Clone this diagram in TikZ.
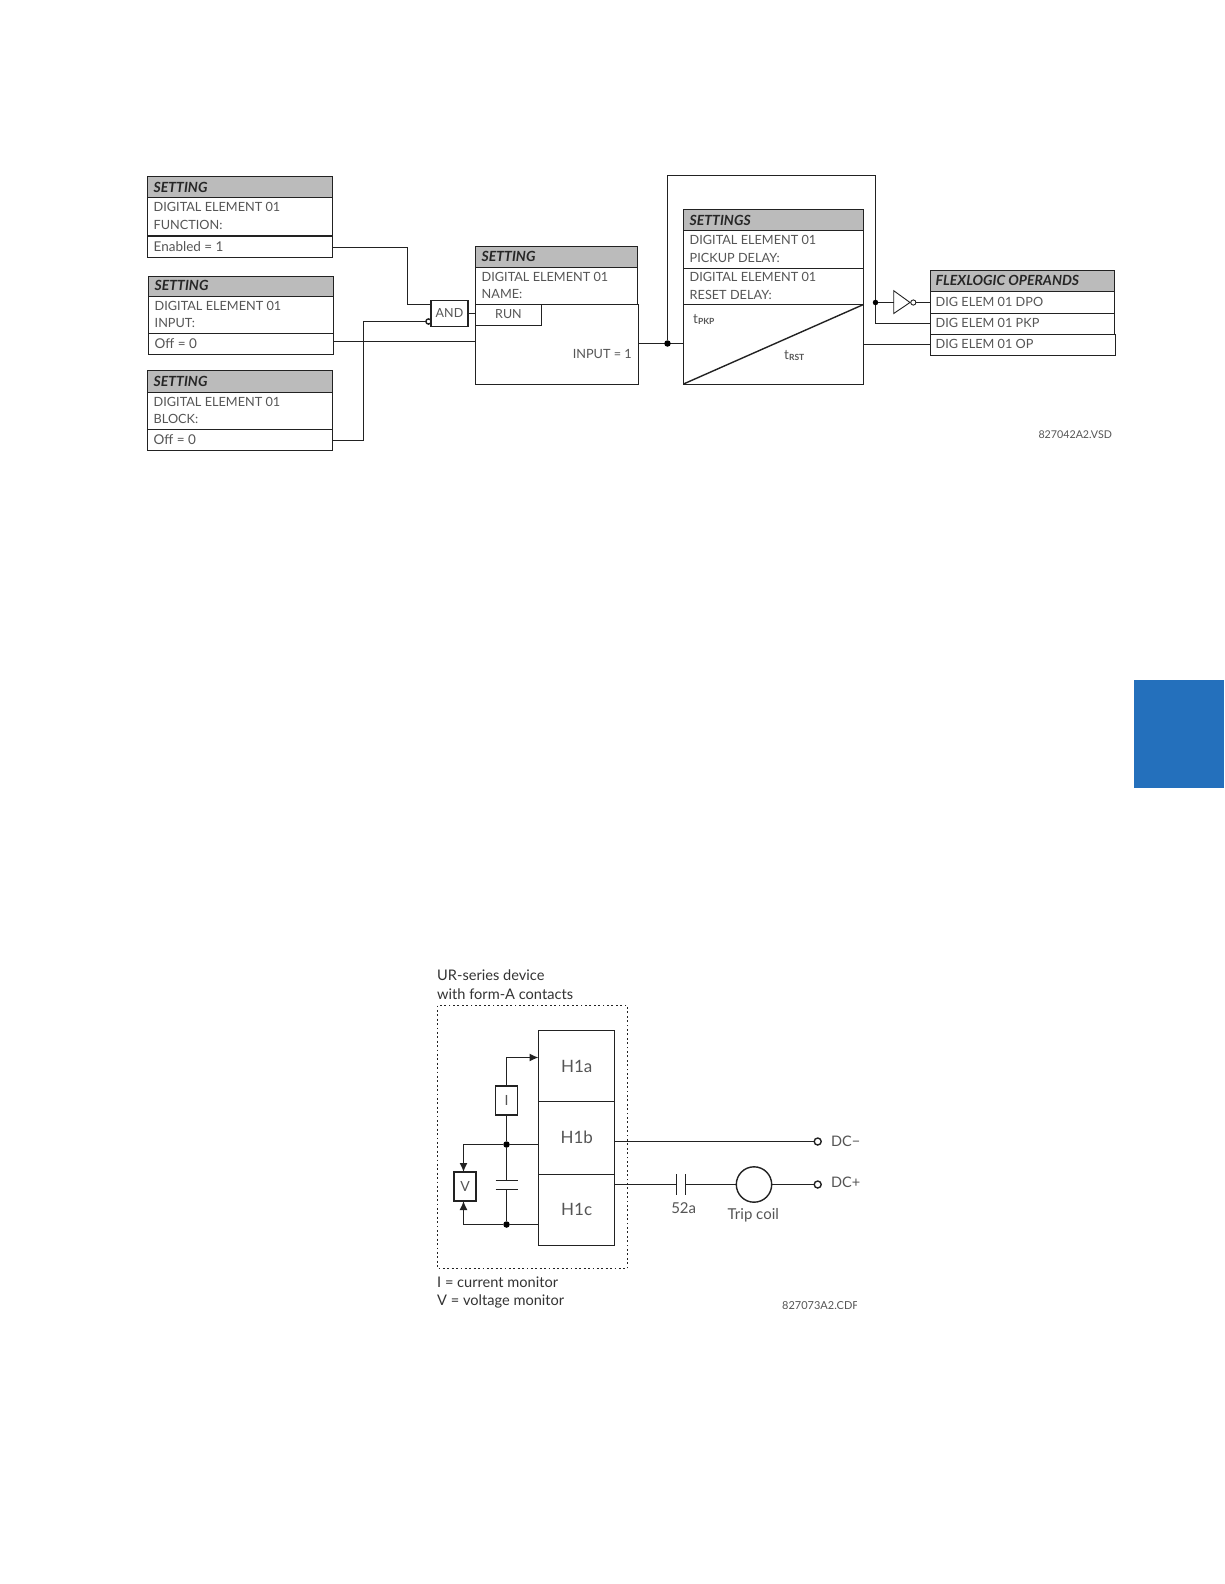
\documentclass[tikz,border=0pt]{standalone}
\usepackage{fontspec}
\setmainfont{Lato}
\usetikzlibrary{arrows.meta}
\definecolor{hdr}{HTML}{BBBBBB}
\definecolor{txt}{HTML}{555555}
\definecolor{lin}{HTML}{222222}
\definecolor{tabblue}{HTML}{2470BC}
\tikzset{
  ln/.style={draw=lin,line width=1.4pt},
  lbl/.style={anchor=west,inner sep=0pt,text=txt,font=\fontsize{12.7}{14}\selectfont},
  mlbl/.style={anchor=west,inner sep=0pt,text=txt,font=\fontsize{13.5}{14}\selectfont},
  hlbl/.style={anchor=west,inner sep=0pt,text=black!85,font=\fontsize{14}{14}\selectfont\bfseries\itshape},
  clbl/.style={inner sep=0pt,text=txt,font=\fontsize{12.5}{14}\selectfont},
  bigl/.style={inner sep=0pt,text=txt,font=\fontsize{17}{19}\selectfont},
  blk/.style={anchor=west,inner sep=0pt,text=black!80,font=\fontsize{14.6}{15}\selectfont},
  dotj/.style={circle,fill=black,inner sep=0pt,minimum size=6.5pt},
  arr/.style={ln,-{Latex[length=9pt,width=8pt]}},
}
\newcommand{\settingbox}[6]{%
 \fill[hdr] (#1,#3) rectangle (#2,#4);
 \draw[ln] (#1,#3) rectangle (#2,#6);
 \draw[ln] (#1,#4) -- (#2,#4);
 \draw[ln] (#1,#5) -- (#2,#5);
}
\begin{document}
\begin{tikzpicture}[x=1pt,y=-1pt]
\useasboundingbox (0,0) rectangle (1224,1584);
\fill[white] (0,0) rectangle (1224,1584);
% blue tab
\fill[tabblue] (1134,680) rectangle (1224,788);
% box 1
\settingbox{147.7}{332.5}{176.7}{197.5}{235.5}{257.5}
\draw[ln] (147.7,236.5) -- (332.5,236.5);
\node[hlbl] (a0) at (153.5,187) {SETTING};
\node[lbl] (a1) at (153.5,207) {DIGITAL ELEMENT 01};
\node[lbl] (a2) at (153.5,224.5) {FUNCTION:};
\node[mlbl] (a3) at (153.5,246.5) {Enabled = 1};
% box 2
\settingbox{148.7}{333.5}{276.5}{296.5}{333.5}{354.5}
\node[hlbl] (b0) at (154.5,285.5) {SETTING};
\node[lbl] (b1) at (154.5,306) {DIGITAL ELEMENT 01};
\node[lbl] (b2) at (154.5,323.5) {INPUT:};
\node[mlbl] (b3) at (154.5,343.5) {Off = 0};
% box 3
\settingbox{147.7}{332.5}{370.5}{392.5}{429.5}{450.5}
\node[hlbl] (c0) at (153.5,381.5) {SETTING};
\node[lbl] (c1) at (153.5,401.5) {DIGITAL ELEMENT 01};
\node[lbl] (c2) at (153.5,419) {BLOCK:};
\node[mlbl] (c3) at (153.5,439.5) {Off = 0};
% name box
\fill[hdr] (475.5,246.5) rectangle (637.5,267.5);
\draw[ln] (475.5,304.5) -- (475.5,246.5) -- (637.5,246.5) -- (637.5,304.5);
\draw[ln] (475.5,267.5) -- (637.5,267.5);
\draw[ln] (475.5,304.5) rectangle (638.5,384.5);
\draw[ln] (475.5,325.5) -- (541.5,325.5) -- (541.5,304.5);
\node[hlbl] (n0) at (481.5,256.5) {SETTING};
\node[lbl] (n1) at (481.5,276.5) {DIGITAL ELEMENT 01};
\node[lbl] (n2) at (481.5,294) {NAME:};
\node[clbl] (run) at (508.5,314) {RUN};
\node[lbl,anchor=east] (inp) at (632,353.5) {INPUT = 1};
% AND
\node[draw=lin,line width=1.4pt,minimum width=37pt,minimum height=26pt,inner sep=0pt,text=txt,font=\fontsize{12.5}{14}\selectfont] (and) at (449.5,313.5) {AND};
\draw[ln] (and.east) -- (475.5,313.5);
\coordinate (bub) at (428.5,321.5);
\draw[ln,fill=white] (bub) circle (2.6pt);
% wires in
\draw[ln] (332.5,247.5) -- (407.5,247.5) -- (407.5,304.5) -- (431,304.5);
\draw[ln] (332.5,440.5) -- (363.5,440.5) -- (363.5,321.5) -- (425.9,321.5);
\draw[ln] (333.5,341.5) -- (475.5,341.5);
% settings box
\fill[hdr] (683.5,209.5) rectangle (863.5,230.5);
\draw[ln] (683.5,209.5) rectangle (863.5,384.5);
\draw[ln] (683.5,230.5) -- (863.5,230.5);
\draw[ln] (683.5,268.5) -- (863.5,268.5);
\draw[ln] (683.5,304.5) -- (863.5,304.5);
\draw[ln] (683.5,384) -- (863.5,304.5);
\node[hlbl] (s0) at (689.5,220) {SETTINGS};
\node[lbl] (s1) at (689.5,240) {DIGITAL ELEMENT 01};
\node[lbl] (s2) at (689.5,257.5) {PICKUP DELAY:};
\node[lbl] (s3) at (689.5,277) {DIGITAL ELEMENT 01};
\node[lbl] (s4) at (689.5,294.5) {RESET DELAY:};
\node[mlbl] (tp) at (693,319.5) {t\raisebox{-1.5pt}{\fontsize{8.5}{9}\selectfont\bfseries PKP}};
\node[mlbl] (tr) at (784,355.5) {t\raisebox{-1.5pt}{\fontsize{8.5}{9}\selectfont\bfseries RST}};
% feedback
\draw[ln] (638.5,343.5) -- (683.5,343.5);
\node[dotj] (d1) at (667.5,343.5) {};
\draw[ln] (d1) -- (667.5,175.5) -- (875.5,175.5) -- (875.5,323.5) -- (930.5,323.5);
\node[dotj,minimum size=5.5pt] (d2) at (875.5,302.5) {};
% flexlogic
\fill[hdr] (930.5,270.5) rectangle (1114.5,291.5);
\draw[ln] (930.5,270.5) rectangle (1114.5,334.5);
\draw[ln] (930.5,291.5) -- (1114.5,291.5);
\draw[ln] (930.5,313.5) -- (1114.5,313.5);
\draw[ln] (930.5,334.5) rectangle (1115.5,355.5);
\node[hlbl] (f0) at (935.5,280.5) {FLEXLOGIC OPERANDS};
\node[lbl] (f1) at (935.5,302) {DIG ELEM 01 DPO};
\node[lbl] (f2) at (935.5,323) {DIG ELEM 01 PKP};
\node[lbl] (f3) at (935.5,344) {DIG ELEM 01 OP};
\draw[ln] (863.5,344.5) -- (930.5,344.5);
% inverter
\draw[line width=0.9pt,draw=lin,fill=white] (893.7,290.7) -- (910,302.5) -- (893.7,313.5) -- cycle;
\draw[line width=0.9pt,draw=lin,fill=white] (913.3,302.5) circle (2.6pt);
\draw[ln] (d2) -- (893.7,302.5);
\draw[ln] (915.9,302.5) -- (930.5,302.5);
\node[anchor=west,inner sep=0pt,text=txt,font=\fontsize{10.7}{12}\selectfont] (ref1) at (1038.3,435) {827042A2.VSD};
% === lower diagram ===
\node[blk] (t1) at (437,975.5) {UR-series device};
\node[blk] (t2) at (437,993.7) {with form-A contacts};
\draw[draw=lin,line width=1.4pt,dash pattern=on 1.8pt off 2.6pt] (437.5,1005.5) rectangle (627.5,1268.5);
\draw[ln] (538.5,1030.5) rectangle (614.5,1245.5);
\draw[ln] (538.5,1101.5) -- (614.5,1101.5);
\draw[ln] (538.5,1174.5) -- (614.5,1174.5);
\node[bigl] (h1) at (576.7,1066.7) {H1a};
\node[bigl] (h2) at (576.7,1137.3) {H1b};
\node[bigl] (h3) at (576.7,1209.3) {H1c};
% I
\node[draw=lin,line width=1.4pt,minimum width=22pt,minimum height=29pt,inner sep=0pt,text=txt,font=\fontsize{14}{15}\selectfont] (ibox) at (506.5,1100.5) {I};
\draw[arr] (ibox.north) -- (506.5,1057.5) -- (538.5,1057.5);
\node[dotj] (j1) at (506.5,1144.5) {};
\node[dotj] (j2) at (506.5,1224.5) {};
\draw[ln] (ibox.south) -- (j1);
\draw[ln] (j1) -- (506.5,1180.5);
\draw[ln] (506.5,1189.5) -- (j2);
\draw[ln] (495.5,1180.5) -- (517.5,1180.5);
\draw[ln] (495.5,1189.5) -- (517.5,1189.5);
\draw[ln] (j1) -- (538.5,1144.5);
\draw[ln] (j2) -- (538.5,1224.5);
\node[draw=lin,line width=1.4pt,minimum width=22pt,minimum height=29pt,inner sep=0pt,text=txt,font=\fontsize{14}{15}\selectfont] (vbox) at (465,1186.5) {V};
\draw[arr] (j1) -- (463.5,1144.5) -- (463.5,1172);
\draw[arr] (j2) -- (463.5,1224.5) -- (463.5,1201);
% right side
\coordinate (oa) at (817.7,1141.5);
\coordinate (ob) at (817.7,1184.5);
\draw[ln] (614.5,1141.5) -- (814,1141.5);
\draw[ln,fill=white] (oa) circle (3.5pt);
\node[lbl,font=\fontsize{14.5}{15}\selectfont] (dcm) at (831,1141) {DC−};
\draw[ln] (614.5,1184.5) -- (676.5,1184.5);
\draw[ln] (676.5,1174.3) -- (676.5,1194.7);
\draw[ln] (685.5,1174.3) -- (685.5,1194.7);
\draw[ln] (685.5,1184.5) -- (736.3,1184.5);
\node[circle,draw=lin,line width=1.4pt,minimum size=35.4pt,inner sep=0pt] (coil) at (754,1184.5) {};
\draw[ln] (coil.east) -- (814,1184.5);
\draw[ln,fill=white] (ob) circle (3.5pt);
\node[lbl,font=\fontsize{14.5}{15}\selectfont] (dcp) at (831,1182.7) {DC+};
\node[clbl,font=\fontsize{15}{15}\selectfont] (l52) at (683.7,1208.3) {52a};
\node[clbl,font=\fontsize{15}{16}\selectfont] (ltc) at (753.3,1215) {Trip coil};
\node[blk] (m1) at (437,1282) {I = current monitor};
\node[blk] (m2) at (437,1301) {V = voltage monitor};
\begin{scope}
\clip (770,1290) rectangle (856.7,1308.7);
\node[anchor=west,inner sep=0pt,text=txt,font=\fontsize{11}{12}\selectfont] (ref2) at (782,1305.5) {827073A2.CDF};
\end{scope}
\end{tikzpicture}
\end{document}
